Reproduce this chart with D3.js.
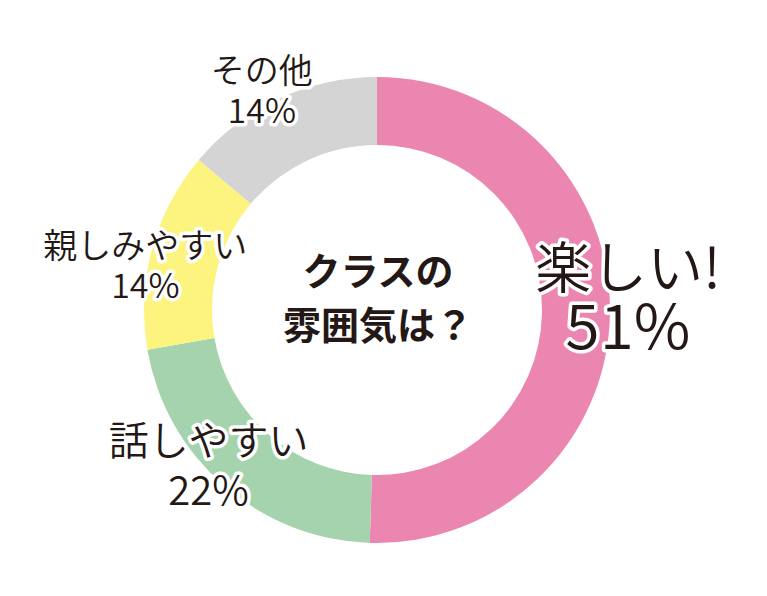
<!DOCTYPE html>
<html>
<head>
<meta charset="utf-8">
<script src="https://cdn.jsdelivr.net/npm/d3@7"></script>
<style>
  html, body { margin: 0; padding: 0; background: #fff; }
  svg { display: block; }
  text { font-family: "Noto Sans CJK JP", "Noto Sans", sans-serif; fill: #231815; }
</style>
</head>
<body>
<svg id="chart"></svg>
<script>
// data
const categories = ["楽しい!", "話しやすい", "親しみやすい", "その他"];
const values = [51, 22, 14, 14];
const percentLabels = ["51%", "22%", "14%", "14%"];
const colors = ["#eb86b1", "#a5d3ad", "#fdf47f", "#d4d4d4"];
const titleLines = ["クラスの", "雰囲気は？"];

const width = 767;
const height = 596;
const cx = 377, cy = 310;
const outerR = 233, innerR = 165, labelR = 240;

// label tweaks (offset from label arc centroid, font sizes, line gap)
const labelStyle = [
  { dx: 11, dy: -26, s1: 56, s2: 62, gap: 61 },
  { dx: -11, dy: -36, s1: 40, s2: 40, gap: 50 },
  { dx: 0, dy: 11, s1: 34, s2: 34, gap: 40 },
  { dx: -14, dy: -9, s1: 34, s2: 34, gap: 40 }
];

const svg = d3.select("#chart")
  .attr("width", width)
  .attr("height", height);

const pie = d3.pie().sort(null).value(d => d);
const arcs = pie(values);

const arc = d3.arc().innerRadius(innerR).outerRadius(outerR);
const labelArc = d3.arc().innerRadius(labelR).outerRadius(labelR);

const g = svg.append("g").attr("transform", `translate(${cx},${cy})`);

g.selectAll(".slice")
  .data(arcs)
  .enter()
  .append("path")
  .attr("class", "slice")
  .attr("d", arc)
  .attr("fill", (d, i) => colors[i]);

// slice labels
const labels = g.selectAll(".label")
  .data(arcs)
  .enter()
  .append("g")
  .attr("class", "label")
  .attr("transform", (d, i) => {
    const c = labelArc.centroid(d);
    return `translate(${c[0] + labelStyle[i].dx},${c[1] + labelStyle[i].dy})`;
  });

labels.each(function(d, i) {
  const st = labelStyle[i];
  const halo = sel => sel
    .attr("text-anchor", "middle")
    .attr("font-weight", 350)
    .attr("stroke", "#fff")
    .attr("stroke-width", 7)
    .attr("stroke-linejoin", "round")
    .attr("paint-order", "stroke");
  d3.select(this).append("text")
    .call(halo)
    .attr("y", 0)
    .attr("font-size", st.s1)
    .text(categories[i]);
  d3.select(this).append("text")
    .call(halo)
    .attr("y", st.gap)
    .attr("font-size", st.s2)
    .text(percentLabels[i]);
});

// center title
g.selectAll(".title")
  .data(titleLines)
  .enter()
  .append("text")
  .attr("class", "title")
  .attr("text-anchor", "middle")
  .attr("font-weight", 700)
  .attr("font-size", 38)
  .attr("x", 1)
  .attr("y", (d, i) => -25 + i * 54)
  .text(d => d);
</script>
</body>
</html>
